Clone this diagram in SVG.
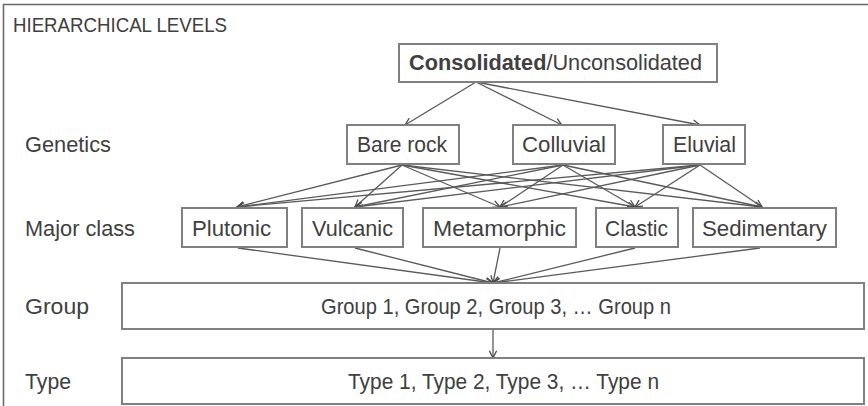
<svg xmlns="http://www.w3.org/2000/svg" width="868" height="406" viewBox="0 0 868 406">
<defs>
<style>
text{font-family:"Liberation Sans",Arial,sans-serif;font-size:22px;fill:#404040}
.box{fill:#fff;stroke:#808080;stroke-width:2}
.ln{stroke:#5a5a5a;stroke-width:1.3;fill:none;marker-end:url(#ah)}
.lbl{font-size:21px}
</style>
<marker id="ah" viewBox="0 0 10 10" refX="9" refY="5" markerWidth="9" markerHeight="9" markerUnits="userSpaceOnUse" orient="auto">
<path d="M1,1 L9,5 L1,9" fill="none" stroke="#4a4a4a" stroke-width="1.4"/>
</marker>
</defs>
<rect width="868" height="406" fill="#fff"/>
<path d="M3.5,406 L3.5,4.5 L868,4.5" fill="none" stroke="#666" stroke-width="1.5"/>
<g id="labels">
<text x="13" y="32" class="lbl" textLength="214" lengthAdjust="spacingAndGlyphs">HIERARCHICAL LEVELS</text>
<text x="25" y="152" textLength="86" lengthAdjust="spacingAndGlyphs">Genetics</text>
<text x="25" y="236" textLength="110" lengthAdjust="spacingAndGlyphs">Major class</text>
<text x="25" y="314" textLength="64" lengthAdjust="spacingAndGlyphs">Group</text>
<text x="25" y="389" textLength="46" lengthAdjust="spacingAndGlyphs">Type</text>
</g>
<g id="connectors">
<line class="ln" x1="476" y1="82" x2="405" y2="125"/>
<line class="ln" x1="476" y1="82" x2="562" y2="125"/>
<line class="ln" x1="476" y1="82" x2="700" y2="125"/>
<line class="ln" x1="402" y1="165" x2="237" y2="207"/>
<line class="ln" x1="402" y1="165" x2="355" y2="207"/>
<line class="ln" x1="402" y1="165" x2="500" y2="207"/>
<line class="ln" x1="402" y1="165" x2="635" y2="207"/>
<line class="ln" x1="402" y1="165" x2="762" y2="207"/>
<line class="ln" x1="563" y1="165" x2="237" y2="207"/>
<line class="ln" x1="563" y1="165" x2="355" y2="207"/>
<line class="ln" x1="563" y1="165" x2="500" y2="207"/>
<line class="ln" x1="563" y1="165" x2="635" y2="207"/>
<line class="ln" x1="563" y1="165" x2="762" y2="207"/>
<line class="ln" x1="700" y1="165" x2="237" y2="207"/>
<line class="ln" x1="700" y1="165" x2="355" y2="207"/>
<line class="ln" x1="700" y1="165" x2="500" y2="207"/>
<line class="ln" x1="700" y1="165" x2="635" y2="207"/>
<line class="ln" x1="700" y1="165" x2="762" y2="207"/>
<line class="ln" x1="238" y1="248" x2="493" y2="283"/>
<line class="ln" x1="355" y1="248" x2="493" y2="283"/>
<line class="ln" x1="500" y1="248" x2="493" y2="283"/>
<line class="ln" x1="635" y1="248" x2="493" y2="283"/>
<line class="ln" x1="760" y1="248" x2="493" y2="283"/>
<line class="ln" x1="493" y1="330" x2="493" y2="358"/>
</g>
<g id="n-consolidated">
<rect class="box" x="399" y="44" width="318" height="38"/>
<text x="409" y="70" textLength="293" lengthAdjust="spacingAndGlyphs"><tspan font-weight="bold">Consolidated</tspan>/Unconsolidated</text>
</g>
<g id="n-barerock">
<rect class="box" x="347" y="125" width="112" height="39"/>
<text x="357" y="152" textLength="90" lengthAdjust="spacingAndGlyphs">Bare rock</text>
</g>
<g id="n-colluvial">
<rect class="box" x="513" y="125" width="102" height="39"/>
<text x="522" y="152" textLength="84" lengthAdjust="spacingAndGlyphs">Colluvial</text>
</g>
<g id="n-eluvial">
<rect class="box" x="663" y="125" width="82" height="39"/>
<text x="673" y="152" textLength="63" lengthAdjust="spacingAndGlyphs">Eluvial</text>
</g>
<g id="n-plutonic">
<rect class="box" x="182" y="208" width="105" height="39"/>
<text x="192" y="236" textLength="79" lengthAdjust="spacingAndGlyphs">Plutonic</text>
</g>
<g id="n-vulcanic">
<rect class="box" x="302" y="208" width="101" height="39"/>
<text x="312" y="236" textLength="81" lengthAdjust="spacingAndGlyphs">Vulcanic</text>
</g>
<g id="n-metamorphic">
<rect class="box" x="423" y="208" width="153" height="39"/>
<text x="433" y="236" textLength="133" lengthAdjust="spacingAndGlyphs">Metamorphic</text>
</g>
<g id="n-clastic">
<rect class="box" x="596" y="208" width="82" height="39"/>
<text x="605" y="236" textLength="63" lengthAdjust="spacingAndGlyphs">Clastic</text>
</g>
<g id="n-sedimentary">
<rect class="box" x="693" y="208" width="143" height="39"/>
<text x="702" y="236" textLength="125" lengthAdjust="spacingAndGlyphs">Sedimentary</text>
</g>
<g id="n-group">
<rect class="box" x="122" y="283" width="742" height="46"/>
<text x="321" y="314" textLength="350" lengthAdjust="spacingAndGlyphs">Group 1, Group 2, Group 3, … Group n</text>
</g>
<g id="n-type">
<rect class="box" x="122" y="358" width="742" height="46"/>
<text x="348" y="389" textLength="311" lengthAdjust="spacingAndGlyphs">Type 1, Type 2, Type 3, … Type n</text>
</g>
</svg>
